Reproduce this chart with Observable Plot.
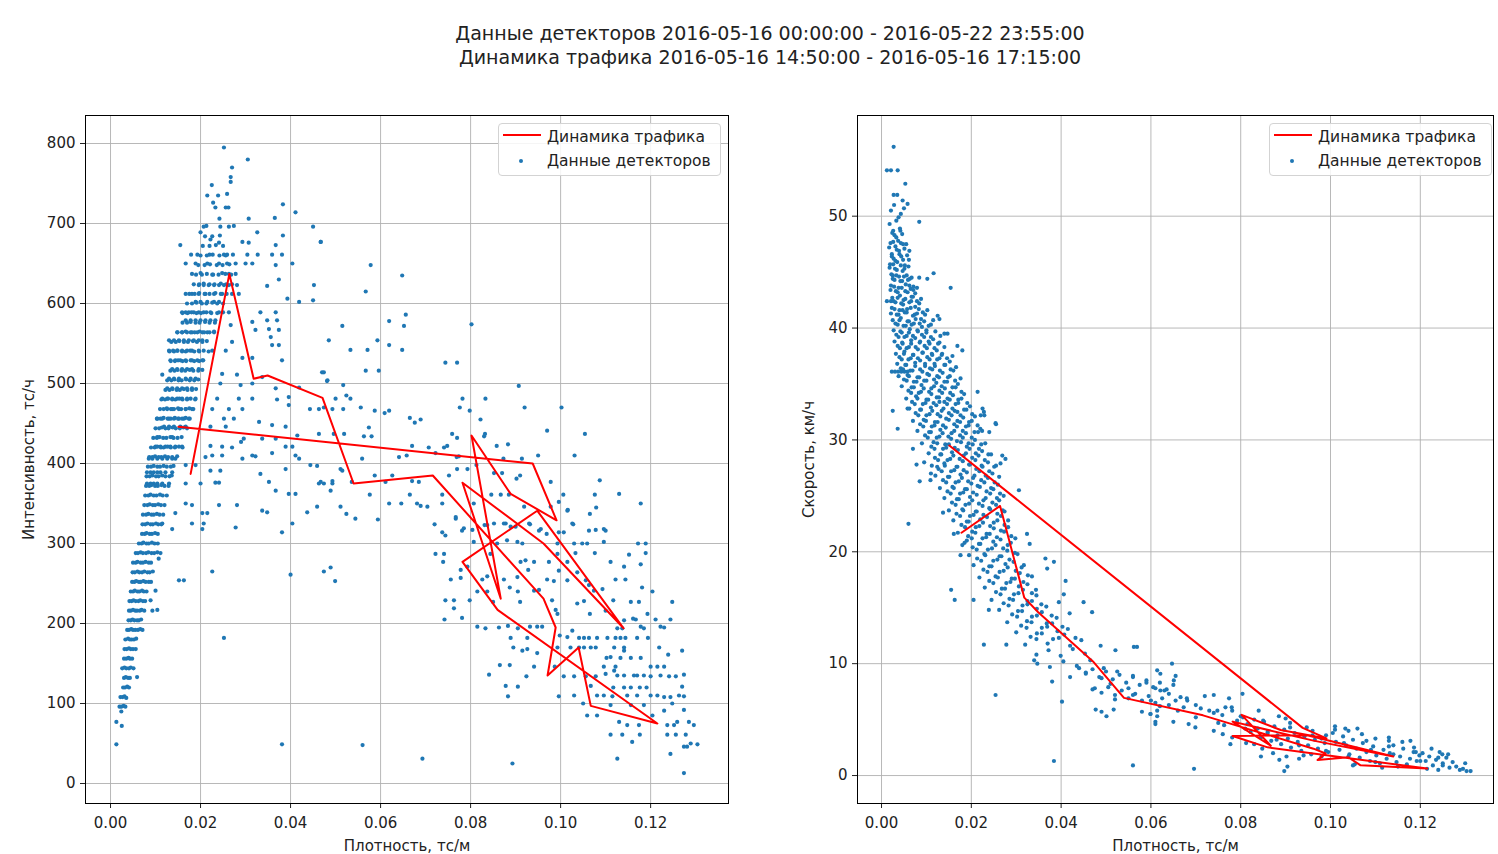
<!DOCTYPE html>
<html><head><meta charset="utf-8">
<script src="https://cdn.jsdelivr.net/npm/d3@7"></script>
<script src="https://cdn.jsdelivr.net/npm/@observablehq/plot@0.6"></script>
<style>
body{margin:0;background:#fff;font-family:"DejaVu Sans",sans-serif;color:#222;}
#wrap{position:relative;width:1498px;height:854px;overflow:hidden;}
.title{position:absolute;left:0;width:1540px;text-align:center;font-size:19px;line-height:24px;}
.panel{position:absolute;top:100px;}
.legend{position:absolute;top:123px;width:221px;height:51px;border:1px solid #d3d3d3;border-radius:4px;background:rgba(255,255,255,0.85);font-size:15.5px;}
.legend .row{position:absolute;left:48px;white-space:nowrap;}
.legend .ln{position:absolute;left:4px;top:10px;width:38px;height:2px;background:#ff0000;}
.legend .pt{position:absolute;left:20px;top:35px;width:4px;height:4px;border-radius:2px;background:#1f77b4;}
</style></head>
<body><div id="wrap">
<div class="title" style="top:21px">Данные детекторов 2016-05-16 00:00:00 - 2016-05-22 23:55:00</div>
<div class="title" style="top:45px">Динамика трафика 2016-05-16 14:50:00 - 2016-05-16 17:15:00</div>
</div>
<script>
// ---------- data ----------
const xTicks = [0, 0.02, 0.04, 0.06, 0.08, 0.10, 0.12];
const yTicksLeft = [0, 100, 200, 300, 400, 500, 600, 700, 800];
const yTicksRight = [0, 10, 20, 30, 40, 50];

// detector observations: [density, intensity] — scattered part
const detectorsFlow = [
[0.0252,795],[0.0305,780],[0.0270,770],[0.0267,758],[0.0267,752],[0.0225,748],[0.0215,735],[0.0239,735],[0.0259,737],[0.0228,726],[0.0233,720],[0.0256,720],[0.0262,720],[0.0383,724],[0.0411,714],[0.0242,706],[0.0307,706],[0.0365,707],[0.0207,696],[0.0213,697],[0.0244,696],[0.0263,696],[0.0274,697],[0.0326,689],[0.0450,696],[0.0200,689],[0.0222,680],[0.0241,676],[0.0155,673],[0.0293,677],[0.0307,676],[0.0383,685],[0.0467,677],[0.0367,673],
[0.0179,661],[0.0193,661],[0.0220,661],[0.0252,661],[0.0259,661],[0.0304,661],[0.0327,661],[0.0359,661],[0.0381,661],
[0.0167,650],[0.0189,650],[0.0215,650],[0.0241,650],[0.0259,650],[0.0278,650],[0.0300,650],[0.0315,650],[0.0367,648],[0.0404,650],
[0.0181,637],[0.0200,638],[0.0226,636],[0.0248,638],[0.0263,637],[0.0278,637],[0.0374,630],[0.0348,622],[0.0452,623],
[0.0196,623],[0.0207,623],[0.0218,623],[0.0230,623],[0.0241,623],[0.0252,623],[0.0263,623],[0.0281,623],
[0.0167,612],[0.0181,612],[0.0196,612],[0.0211,612],[0.0230,612],[0.0248,612],[0.0270,612],[0.0285,612],[0.0393,606],[0.0419,602],[0.0450,604],
[0.0189,602],[0.0200,602],[0.0215,602],[0.0230,602],[0.0241,602],
[0.0159,589],[0.0167,589],[0.0174,589],[0.0185,589],[0.0196,589],[0.0207,589],[0.0222,589],[0.0241,589],[0.0263,589],[0.0333,589],[0.0367,589],
[0.0167,579],[0.0178,579],[0.0189,579],[0.0200,579],[0.0211,579],[0.0222,579],[0.0233,579],[0.0348,579],[0.0370,579],[0.0267,573],[0.0315,577],[0.0322,567],[0.0352,568],[0.0374,567],
[0.0148,564],[0.0159,564],[0.0170,564],[0.0181,564],[0.0193,564],[0.0204,564],[0.0215,564],[0.0230,564],[0.0356,558],
[0.0130,554],[0.0141,554],[0.0152,554],[0.0163,554],[0.0174,554],[0.0185,554],[0.0196,554],[0.0204,554],[0.0270,552],[0.0359,548],[0.0374,548],
[0.0130,541],[0.0139,541],[0.0148,541],[0.0159,541],[0.0170,541],[0.0181,541],[0.0196,541],[0.0226,541],[0.0256,541],[0.0293,532],[0.0315,532],
[0.0133,529],[0.0144,529],[0.0155,529],[0.0167,529],[0.0181,529],[0.0193,529],[0.0204,529],[0.0381,529],[0.0115,511],
[0.0137,518],[0.0148,518],[0.0159,518],[0.0170,518],[0.0181,518],[0.0196,518],[0.0248,512],[0.0281,511],[0.0337,508],[0.0470,514],[0.0481,503],
[0.0130,506],[0.0141,506],[0.0152,506],[0.0167,506],[0.0178,506],[0.0189,506],[0.0244,500],[0.0289,498],[0.0315,500],
[0.0126,494],[0.0137,494],[0.0148,494],[0.0159,494],[0.0170,494],[0.0181,494],[0.0367,494],[0.0396,483],[0.0419,495],
[0.0115,481],[0.0126,481],[0.0137,481],[0.0148,481],[0.0159,481],[0.0170,481],[0.0189,481],[0.0237,481],[0.0285,481],[0.0315,481],[0.0370,480],[0.0396,473],[0.0443,468],[0.0463,468],
[0.0126,468],[0.0137,468],[0.0152,468],[0.0167,468],[0.0181,468],[0.0226,468],[0.0263,468],[0.0293,468],
[0.0104,456],[0.0115,456],[0.0130,456],[0.0141,456],[0.0152,456],[0.0163,456],[0.0174,456],[0.0252,456],[0.0274,456],[0.0330,452],[0.0359,448],[0.0389,446],
[0.0119,446],[0.0130,446],[0.0141,446],[0.0155,446],[0.0167,446],[0.0222,446],[0.0256,446],
[0.0296,431],[0.0337,431],[0.0367,431],[0.0104,433],[0.0137,433],[0.0415,435],[0.0463,437],
[0.0100,421],[0.0111,421],[0.0122,421],[0.0133,421],[0.0144,421],[0.0159,421],[0.0222,422],[0.0248,421],[0.0270,420],[0.0290,427],[0.0359,413],[0.0389,421],[0.0404,421],
[0.0085,406],[0.0093,406],[0.0104,406],[0.0115,406],[0.0126,406],[0.0137,406],[0.0144,406],[0.0167,398],[0.0189,398],
[0.0211,408],[0.0226,410],[0.0248,410],[0.0293,406],[0.0315,410],[0.0322,409],[0.0411,410],[0.0419,406],
[0.0081,389],[0.0089,389],[0.0096,389],[0.0104,389],[0.0111,389],[0.0122,389],[0.0137,389],[0.0222,391],[0.0244,391],[0.0333,387],[0.0389,393],[0.0444,398],[0.0459,397],
[0.0081,375],[0.0089,375],[0.0096,375],[0.0104,375],[0.0115,375],[0.0130,375],[0.0167,375],[0.0200,375],[0.0233,376],[0.0241,376],[0.0352,377],[0.0463,375],[0.0474,375],[0.0493,375],
[0.0367,366],[0.0396,362],[0.0411,362],[0.0489,366],
[0.0167,350],[0.0181,348],[0.0241,348],[0.0281,348],[0.0337,341],[0.0348,339],[0.0437,339],[0.0459,346],
[0.0144,338],[0.0204,338],[0.0215,338],
[0.0115,325],[0.0137,318],[0.0181,325],[0.0207,325],[0.0204,318],[0.0278,320],[0.0381,314],[0.0404,325],
[0.0226,265],[0.0400,261],[0.0474,265],[0.0489,270],[0.0499,253],[0.0152,254],[0.0163,254],[0.0100,241],
[0.0252,182],[0.0381,49],[0.0560,48],[0.0693,31],
[0.0467,677],[0.0578,648],[0.0648,635],[0.0567,615],[0.0656,586],[0.0652,572],[0.0619,578],[0.0515,572],
[0.0485,554],[0.0533,542],[0.0571,542],[0.0593,554],[0.0619,548],[0.0648,542],
[0.0802,574],[0.0744,526],[0.0770,526],[0.0567,516],[0.0596,516],[0.0474,514],[0.0482,504],[0.0907,497],[0.0517,498],
[0.0524,485],[0.0533,481],[0.0500,481],[0.0474,470],[0.0493,468],[0.0517,468],
[0.0556,470],[0.0587,466],[0.0609,463],[0.0619,466],[0.0665,457],[0.0676,451],[0.0689,455],
[0.0782,481],[0.0776,470],[0.0798,466],[0.0833,481],[0.0822,455],[0.0970,441],[0.1002,470],[0.0920,470],[0.1054,437],
[0.0496,437],[0.0519,437],[0.0563,434],[0.0574,445],[0.0580,434],
[0.0759,437],[0.0770,432],[0.0830,434],[0.0832,437],[0.0858,422],[0.0883,424],
[0.0670,422],[0.0707,420],[0.0741,420],[0.0748,422],
[0.0559,406],[0.0511,393],[0.0515,391],[0.0641,408],[0.0658,410],[0.0722,413],[0.0769,408],[0.0774,409],[0.0873,406],[0.0914,406],[0.0950,410],[0.1031,410],
[0.0467,377],[0.0493,378],[0.0536,377],[0.0576,361],[0.0587,385],[0.0611,377],[0.0626,385],[0.0670,378],[0.0685,377],[0.0737,361],[0.0752,385],[0.0770,393],[0.0793,393],[0.0813,398],[0.0852,388],[0.0870,388],
[0.0846,361],[0.0867,361],[0.0885,361],[0.0910,385],[0.0902,381],[0.0978,377],[0.1006,361],[0.0996,352],
[0.1087,379],[0.1130,362],[0.1076,361],[0.1178,350],[0.1079,345],[0.1065,337],[0.1016,342],
[0.0511,346],[0.0524,337],[0.0544,331],[0.0594,330],[0.0619,350],[0.0646,350],[0.0665,361],[0.0681,350],[0.0689,347],[0.0704,346],[0.0737,350],[0.0767,331],[0.0785,319],[0.0807,350],[0.0837,323],[0.0852,325],[0.0878,325],[0.0919,346],[0.0932,324],[0.0952,316],[0.0978,346],[0.1015,341],[0.1026,325],
[0.0720,324],[0.0737,314],[0.0744,310],[0.0767,333],[0.0781,316],[0.0804,317],[0.0831,323],[0.0874,325],[0.0889,321],[0.0900,321],[0.0930,325],[0.0956,318],[0.0969,312],[0.0996,314],[0.1007,314],[0.1028,324],[0.1063,316],[0.1078,317],[0.1096,318],[0.1100,316],
[0.0807,302],[0.0859,300],[0.0881,304],[0.0904,302],[0.0915,300],[0.0993,300],[0.1030,300],[0.1048,300],[0.1059,300],[0.1096,302],[0.1172,300],[0.1189,300],
[0.0722,287],[0.0741,287],[0.0739,277],[0.0778,267],[0.0793,271],[0.0844,287],[0.0911,277],[0.0922,279],[0.0941,277],[0.0974,277],[0.0993,287],[0.1015,277],[0.1033,288],[0.1076,288],[0.1111,277],[0.1152,286],[0.1178,274],[0.1189,288],[0.1141,271],
[0.0756,255],[0.0778,257],[0.0826,255],[0.0837,259],[0.0874,255],[0.0904,258],[0.0928,267],[0.0970,255],[0.0985,253],[0.0996,266],[0.1015,254],[0.1037,264],[0.1056,254],[0.1063,248],[0.1074,241],[0.1093,243],[0.1122,255],[0.1144,255],[0.1181,245],[0.1204,240],[0.1248,227],[0.1156,227],[0.1174,227],[0.1117,229],
[0.0744,229],[0.0763,229],[0.0763,219],[0.0815,240],[0.0837,240],[0.0798,229],[0.0850,227],[0.0887,245],[0.0905,240],[0.0910,227],[0.0941,241],[0.0952,242],[0.0981,229],[0.0989,217],[0.0993,212],[0.1037,225],[0.1052,228],[0.1065,212],[0.1100,216],[0.1141,204],[0.1167,205],[0.1193,212],[0.1211,205],[0.1244,205],[0.1222,196],[0.1230,195],[0.1185,194],[0.1178,196],[0.0781,207],[0.0742,205],
[0.0815,196],[0.0833,194],[0.0863,195],[0.0883,197],[0.0905,194],[0.0932,196],[0.0948,196],[0.0959,196],[0.0998,185],[0.1015,183],[0.1026,191],[0.1041,182],[0.1052,182],[0.1063,182],[0.1081,182],[0.1104,182],[0.1122,182],[0.1133,182],[0.1144,182],[0.1170,182],[0.1194,182],[0.1137,194],[0.1126,194],[0.1161,206],
[0.0889,182],[0.0926,182],[0.0895,170],[0.0915,166],[0.0926,168],[0.0948,163],[0.0993,170],[0.1022,170],[0.1041,170],[0.1052,170],[0.1067,170],[0.1078,170],[0.1119,170],[0.1141,170],[0.1133,157],[0.1156,157],[0.1178,157],[0.1102,157],[0.1111,158],[0.1141,166],[0.1219,170],[0.1239,161],[0.1270,166],
[0.0865,148],[0.0887,148],[0.0841,136],[0.0924,134],[0.0941,146],[0.0987,146],[0.1007,134],[0.1030,134],[0.1056,134],[0.1078,134],[0.1096,146],[0.1100,137],[0.1126,135],[0.1141,135],[0.1170,135],[0.1200,146],[0.1215,146],[0.1222,135],[0.1230,146],[0.1241,134],[0.1256,134],[0.1274,136],[0.1163,135],[0.1185,135],[0.1200,134],[0.1122,146],[0.1119,141],
[0.0878,122],[0.0883,109],[0.0905,121],[0.0996,109],[0.1030,110],[0.1050,100],[0.1067,122],[0.1081,110],[0.1096,110],[0.1117,120],[0.1141,120],[0.1156,120],[0.1176,120],[0.1191,120],[0.1200,110],[0.1215,110],[0.1230,108],[0.1244,108],[0.1263,110],[0.1270,121],[0.1274,109],[0.1115,109],[0.1148,110],[0.1170,110],
[0.1059,85],[0.1081,85],[0.1111,98],[0.1156,98],[0.1185,98],[0.1204,85],[0.1230,91],[0.1248,100],[0.1259,77],[0.1274,92],[0.1237,73],[0.1252,73],[0.1285,77],[0.1296,73],[0.1130,77],[0.1148,73],[0.1174,73],
[0.1111,61],[0.1137,61],[0.1176,61],[0.1237,61],[0.1256,61],[0.1278,61],[0.1159,52],[0.1289,50],[0.1304,49],[0.1274,46],[0.1281,46],[0.1244,37],[0.1126,31],[0.0893,25],[0.1274,13]
];

// detector observations: [density, intensity] — dense free-flow branch (5-min counts form rows)
const detectorsFlowBranch = [
[0.0013,49],[0.0013,77],[0.0025,72],[0.0024,90],[0.0020,96],[0.0024,96],[0.0029,97],[0.0033,96],
[0.0022,108],[0.0027,108],[0.0031,109],[0.0035,107],[0.0028,120],[0.0032,120],[0.0037,121],[0.0041,120],
[0.0030,132],[0.0034,133],[0.0039,132],[0.0043,132],[0.0059,133],
[0.0026,144],[0.0031,145],[0.0035,144],[0.0041,144],[0.0045,145],[0.0051,144],
[0.0030,156],[0.0035,156],[0.0040,157],[0.0043,156],[0.0048,156],
[0.0031,168],[0.0036,168],[0.0041,169],[0.0045,168],[0.0050,168],[0.0056,168],
[0.0033,180],[0.0039,181],[0.0043,180],[0.0047,180],[0.0052,180],[0.0057,181],
[0.0037,192],[0.0041,192],[0.0046,193],[0.0050,192],[0.0055,192],[0.0061,192],[0.0066,193],[0.0071,192],
[0.0040,204],[0.0045,204],[0.0049,205],[0.0053,204],[0.0059,204],[0.0063,204],[0.0068,205],
[0.0041,216],[0.0045,216],[0.0050,217],[0.0055,216],[0.0059,216],[0.0065,216],[0.0069,217],[0.0075,216],[0.0093,216],[0.0104,217],
[0.0042,228],[0.0047,228],[0.0051,229],[0.0056,228],[0.0062,228],[0.0066,229],[0.0072,228],[0.0077,228],[0.0089,229],
[0.0045,240],[0.0050,240],[0.0054,241],[0.0060,240],[0.0064,240],[0.0070,241],[0.0074,240],[0.0080,240],
[0.0048,252],[0.0053,252],[0.0057,253],[0.0063,252],[0.0067,252],[0.0073,253],[0.0078,252],[0.0085,252],[0.0090,252],
[0.0049,264],[0.0054,264],[0.0060,265],[0.0064,264],[0.0070,264],[0.0075,265],[0.0082,264],[0.0087,264],[0.0094,265],
[0.0050,276],[0.0056,276],[0.0060,277],[0.0067,276],[0.0072,276],[0.0078,277],[0.0085,276],[0.0090,276],[0.0107,281],
[0.0056,288],[0.0061,288],[0.0067,289],[0.0072,288],[0.0079,288],[0.0084,289],[0.0091,288],[0.0097,288],[0.0104,289],[0.0111,288],
[0.0063,300],[0.0069,300],[0.0073,301],[0.0080,300],[0.0085,300],[0.0092,301],[0.0098,300],[0.0105,300],
[0.0070,312],[0.0076,312],[0.0080,313],[0.0087,312],[0.0092,312],[0.0099,313],[0.0105,312],
[0.0071,324],[0.0077,324],[0.0082,325],[0.0089,324],[0.0094,324],[0.0101,325],[0.0106,324],[0.0113,324],
[0.0072,336],[0.0079,336],[0.0084,337],[0.0091,336],[0.0096,336],[0.0103,337],[0.0109,336],[0.0117,336],
[0.0075,348],[0.0082,348],[0.0087,349],[0.0094,348],[0.0099,348],[0.0106,349],[0.0112,348],[0.0120,348],
[0.0077,360],[0.0084,360],[0.0089,361],[0.0096,360],[0.0102,360],[0.0110,361],[0.0116,360],[0.0125,360],
[0.0079,372],[0.0086,372],[0.0091,373],[0.0099,372],[0.0105,372],[0.0113,373],[0.0120,372],[0.0129,372],
[0.0080,384],[0.0087,384],[0.0093,385],[0.0101,384],[0.0107,384],[0.0115,385],[0.0122,384],[0.0131,384],[0.0136,385],
[0.0083,396],[0.0090,396],[0.0096,397],[0.0104,396],[0.0110,396],[0.0118,397],[0.0125,396],[0.0134,396],[0.0140,397],
[0.0086,408],[0.0093,408],[0.0099,409],[0.0107,408],[0.0113,408],[0.0121,409],[0.0128,408],[0.0137,408],[0.0148,409],
[0.0090,420],[0.0098,420],[0.0104,421],[0.0112,420],[0.0118,420],[0.0127,421],[0.0134,420],[0.0143,420],[0.0152,421],[0.0160,420],
[0.0095,432],[0.0103,432],[0.0109,433],[0.0117,432],[0.0124,432],[0.0133,433],[0.0140,432],[0.0149,432],[0.0158,433],
[0.0100,444],[0.0108,444],[0.0114,445],[0.0122,444],[0.0129,444],[0.0138,445],[0.0145,444],[0.0154,444],[0.0162,445],[0.0170,444],
[0.0103,456],[0.0111,456],[0.0118,457],[0.0127,456],[0.0134,456],[0.0143,457],[0.0150,456],[0.0159,456],[0.0167,457],[0.0176,456],
[0.0110,468],[0.0118,468],[0.0125,469],[0.0134,468],[0.0141,468],[0.0150,469],[0.0157,468],[0.0167,468],[0.0175,469],[0.0184,468],
[0.0113,480],[0.0121,480],[0.0128,481],[0.0137,480],[0.0144,480],[0.0153,481],[0.0160,480],[0.0170,480],[0.0178,481],[0.0188,480],
[0.0122,492],[0.0131,492],[0.0138,493],[0.0147,492],[0.0154,492],[0.0163,493],[0.0171,492],[0.0181,492],[0.0190,493],
[0.0126,504],[0.0135,504],[0.0142,505],[0.0151,504],[0.0158,504],[0.0168,505],[0.0176,504],[0.0186,504],[0.0195,505],
[0.0133,516],[0.0142,516],[0.0149,517],[0.0158,516],[0.0166,516],[0.0176,517],[0.0184,516],[0.0195,516],[0.0204,517],
[0.0134,528],[0.0143,528],[0.0150,529],[0.0160,528],[0.0168,528],[0.0178,529],[0.0186,528],[0.0197,528],[0.0206,529],
[0.0131,540],[0.0141,540],[0.0149,541],[0.0159,540],[0.0167,540],[0.0177,541],[0.0186,540],[0.0197,540],[0.0207,541],[0.0218,540],
[0.0135,552],[0.0145,552],[0.0153,553],[0.0163,552],[0.0172,552],[0.0183,553],[0.0192,552],[0.0204,552],[0.0214,553],
[0.0149,564],[0.0159,564],[0.0167,565],[0.0178,564],[0.0187,564],[0.0198,565],[0.0208,564],[0.0220,564],[0.0230,565],
[0.0160,576],[0.0170,576],[0.0178,577],[0.0189,576],[0.0198,576],[0.0210,577],[0.0220,576],[0.0232,576],
[0.0160,588],[0.0171,588],[0.0180,589],[0.0191,588],[0.0201,588],[0.0213,589],[0.0224,588],[0.0237,588],[0.0250,589],
[0.0170,600],[0.0181,600],[0.0191,601],[0.0203,600],[0.0213,600],[0.0226,601],[0.0237,600],[0.0250,600],
[0.0175,612],[0.0187,612],[0.0197,613],[0.0209,612],[0.0220,612],[0.0233,613],[0.0245,612],[0.0258,612],
[0.0185,624],[0.0197,624],[0.0207,625],[0.0220,624],[0.0231,624],[0.0245,625],[0.0257,624],[0.0270,624],
[0.0190,636],[0.0203,636],[0.0214,637],[0.0228,636],[0.0240,636],[0.0255,637],[0.0268,636],
[0.0195,648],[0.0209,648],[0.0221,649],[0.0236,648],[0.0249,648],[0.0264,649],
[0.0200,660],[0.0214,660],[0.0227,661],[0.0242,660],[0.0256,660],[0.0272,661],
[0.0205,672],[0.0220,672],[0.0234,673],[0.0250,672],[0.0210,684],[0.0226,684],[0.0243,685]
];

// detector observations: [density, speed] — scattered part
const detectorsSpeed = [
[0.0027,56.2],[0.0012,54.1],[0.0021,54.1],[0.0036,54.1],[0.0053,52.9],[0.0027,51.9],[0.0035,51.9],[0.0047,51.4],[0.0058,51.1],[0.0021,50.5],[0.0028,51.0],[0.0050,50.7],[0.0084,49.5],[0.0043,50.2],
[0.0062,46.9],[0.0038,49.9],[0.0065,43.5],[0.0025,44.7],[0.0116,44.9],[0.0154,43.6],[0.0102,44.4],[0.0084,44.5],
[0.0012,42.4],[0.0021,42.4],[0.0125,41.1],[0.0129,40.8],
[0.0023,36.1],[0.0030,36.1],[0.0037,36.1],[0.0044,36.1],[0.0051,36.1],[0.0058,36.1],
[0.0180,38.0],[0.0169,38.4],[0.0147,39.5],[0.0140,39.5],
[0.0025,32.6],[0.0058,32.8],[0.0036,31.0],[0.0129,33.4],[0.0255,31.4],[0.0229,32.2],[0.0214,34.3],[0.0225,32.8],[0.0169,32.5],
[0.0060,22.5],[0.0085,26.3],[0.0095,28.0],[0.0110,27.0],[0.0070,29.2],[0.0078,27.8],
[0.0254,31.5],[0.0221,32.2],[0.0240,30.7],[0.0224,30.8],[0.0228,32.5],
[0.0306,25.5],[0.0265,27.9],[0.0276,28.3],[0.0269,28.6],[0.0109,26.4],[0.0124,27.6],
[0.0137,23.5],[0.0161,21.6],[0.0180,20.6],[0.0176,19.7],[0.0190,21.0],[0.0330,20.7],[0.0324,21.6],
[0.0155,16.6],[0.0163,15.7],[0.0205,15.7],[0.0239,14.8],[0.0365,19.4],[0.0384,19.1],[0.0410,17.4],[0.0406,16.2],[0.0450,15.5],[0.0469,14.6],[0.0395,15.5],[0.0369,18.5],
[0.0228,11.7],[0.0278,11.7],[0.0347,10.0],[0.0340,10.3],[0.0380,8.4],[0.0402,6.6],[0.0254,7.2],[0.0384,1.3],[0.0560,0.9],[0.0419,14.5],
[0.0440,9.6],[0.0455,9.1],[0.0470,9.5],[0.0485,8.8],[0.0500,9.3],[0.0515,8.6],[0.0530,9.0],[0.0545,8.3],[0.0560,8.8],[0.0575,8.1],[0.0590,8.5],[0.0605,7.9],[0.0620,8.3],[0.0635,7.7],[0.0650,8.1],[0.0475,7.8],[0.0490,7.4],[0.0505,7.9],[0.0520,7.2],[0.0535,7.6],[0.0550,6.9],[0.0565,7.3],[0.0580,6.7],[0.0595,7.1],[0.0610,6.5],[0.0625,6.9],[0.0640,6.3],[0.0655,6.7],
[0.0477,5.9],[0.0490,5.7],[0.0501,5.3],[0.0517,5.9],[0.0599,5.5],[0.0610,4.8],[0.0614,5.3],[0.0488,11.6],[0.0521,11.2],[0.0562,11.5],[0.0569,11.5],
[0.0647,10.0],[0.0614,9.4],[0.0621,9.1],[0.0655,8.9],[0.0651,8.5],[0.0610,7.8],[0.0621,7.6],[0.0599,5.5],[0.0614,5.8],[0.0610,4.6],[0.0666,7.0],[0.0681,6.7],[0.0673,6.1],[0.0684,4.6],[0.0699,4.3],
[0.0711,6.0],[0.0730,5.8],[0.0740,7.2],[0.0748,5.8],[0.0774,6.9],[0.0766,6.1],[0.0759,5.4],[0.0781,5.8],[0.0804,7.3],[0.0792,4.9],[0.0740,4.0],[0.0763,4.5],[0.0781,3.4],[0.0777,2.8],[0.0696,0.6],[0.0897,0.4],
[0.0805,5.2],[0.0815,4.6],[0.0822,3.9],[0.0830,5.0],[0.0838,4.2],[0.0845,3.4],[0.0852,4.8],[0.0860,3.9],[0.0868,3.1],[0.0875,4.4],[0.0882,3.6],[0.0890,2.8],[0.0897,4.1],[0.0905,3.3],[0.0912,2.5],[0.0920,3.8],[0.0927,3.0],[0.0935,2.2],[0.0942,3.5],[0.0950,2.7],[0.0957,1.9],[0.0965,3.2],[0.0972,2.4],[0.0980,1.7],[0.0987,2.9],[0.0995,2.1],[0.0812,2.9],[0.0848,2.4],[0.0872,2.0],[0.0902,1.7],[0.0930,1.5],[0.0960,4.0],[0.0990,3.6],[0.0885,5.3],[0.0910,4.7],[0.0840,5.8],[0.0947,4.3],[0.0845,1.7],[0.0886,1.4],[0.0904,0.8],
[0.1005,3.8],[0.1012,3.0],[0.1020,2.3],[0.1028,3.5],[0.1035,2.7],[0.1042,1.9],[0.1050,3.2],[0.1058,2.4],[0.1065,1.6],[0.1072,2.9],[0.1080,2.1],[0.1088,1.3],[0.1095,2.6],[0.1102,1.8],[0.1110,1.1],[0.1118,2.3],[0.1125,1.5],[0.1132,2.0],[0.1140,2.7],[0.1147,1.2],[0.1155,1.7],[0.1162,2.4],[0.1170,1.0],[0.1177,1.5],[0.1185,2.1],[0.1192,1.3],[0.1198,1.8],[0.1010,4.4],[0.1040,4.0],[0.1070,3.7],[0.1100,3.3],[0.1130,3.1],[0.1160,3.0],[0.1054,1.0],[0.1115,0.7],[0.1033,4.2],[0.1060,4.2],[0.1130,3.4],[0.1178,3.1],[0.1186,2.5],
[0.1205,2.0],[0.1212,1.3],[0.1220,1.7],[0.1228,0.9],[0.1235,1.4],[0.1243,2.1],[0.1250,1.1],[0.1258,1.6],[0.1265,0.7],[0.1272,1.2],[0.1280,0.8],[0.1288,0.5],[0.1295,0.6],[0.1303,0.4],[0.1312,0.4],[0.1215,0.6],[0.1240,0.5],[0.1262,1.9],[0.1225,2.4],[0.1249,1.9]
];

// detector observations: [density, speed] — dense core of the cloud
const detectorsSpeedCore = [
[0.0018,49.3],[0.0026,48.7],[0.0033,49.6],[0.0041,48.9],[0.0020,47.6],[0.0029,48.3],[0.0037,47.8],[0.0046,48.4],[0.0055,47.5],
[0.0023,46.6],[0.0031,47.3],[0.0039,46.9],[0.0048,47.5],[0.0019,45.7],[0.0027,46.2],[0.0035,45.9],[0.0044,46.4],[0.0052,45.6],[0.0061,46.1],
[0.0022,44.8],[0.0030,45.3],[0.0039,44.6],[0.0047,45.1],[0.0056,44.7],[0.0021,43.8],[0.0029,44.3],[0.0038,43.6],[0.0046,44.2],[0.0054,43.9],[0.0063,44.4],[0.0071,43.7],
[0.0024,42.7],[0.0032,43.3],[0.0041,42.9],[0.0049,42.5],[0.0058,43.2],[0.0067,42.8],[0.0075,43.1],
[0.0023,41.8],[0.0031,42.3],[0.0040,41.6],[0.0048,42.1],[0.0057,41.7],[0.0066,42.4],[0.0075,41.9],[0.0084,42.2],
[0.0025,40.7],[0.0034,41.2],[0.0043,40.9],[0.0052,41.4],[0.0061,40.6],[0.0070,41.1],[0.0079,41.3],[0.0088,40.8],[0.0097,41.2],
[0.0027,39.8],[0.0036,40.3],[0.0045,39.6],[0.0054,40.2],[0.0063,39.9],[0.0072,40.4],[0.0081,39.7],[0.0090,40.1],[0.0100,39.8],[0.0110,40.3],
[0.0029,38.8],[0.0038,39.2],[0.0047,38.6],[0.0056,39.3],[0.0066,38.9],[0.0075,39.1],[0.0085,38.7],[0.0095,39.2],[0.0105,38.8],[0.0115,39.0],[0.0126,38.6],
[0.0032,37.7],[0.0041,38.2],[0.0051,37.9],[0.0061,38.3],[0.0071,37.6],[0.0081,38.1],[0.0091,37.8],[0.0101,38.2],[0.0112,37.7],[0.0123,38.0],[0.0134,37.6],
[0.0035,36.8],[0.0045,37.2],[0.0055,36.7],[0.0065,37.3],[0.0075,36.9],[0.0086,37.1],[0.0097,36.6],[0.0107,37.2],[0.0118,36.8],[0.0129,37.3],[0.0140,36.7],[0.0152,37.0],
[0.0038,35.7],[0.0048,36.3],[0.0058,35.8],[0.0069,36.2],[0.0080,35.6],[0.0091,36.1],[0.0102,35.9],[0.0113,36.3],[0.0124,35.7],[0.0136,36.0],[0.0148,35.6],[0.0160,36.2],
[0.0045,34.8],[0.0056,35.3],[0.0067,34.7],[0.0078,35.2],[0.0089,34.9],[0.0100,35.3],[0.0111,34.6],[0.0122,35.1],[0.0134,34.8],[0.0146,35.2],[0.0158,34.7],[0.0170,35.0],
[0.0055,33.7],[0.0066,34.2],[0.0077,33.9],[0.0088,34.3],[0.0100,33.6],[0.0111,34.1],[0.0123,33.8],[0.0135,34.2],[0.0147,33.7],[0.0159,34.0],[0.0171,33.6],[0.0184,34.1],
[0.0062,32.8],[0.0074,33.2],[0.0086,32.7],[0.0098,33.3],[0.0110,32.9],[0.0122,33.1],[0.0134,32.6],[0.0146,33.2],[0.0158,32.8],[0.0171,33.3],[0.0184,32.7],[0.0197,33.0],
[0.0070,31.7],[0.0082,32.2],[0.0094,31.8],[0.0107,32.3],[0.0119,31.6],[0.0131,32.1],[0.0144,31.9],[0.0156,32.2],[0.0169,31.7],[0.0182,32.0],[0.0195,31.6],[0.0208,32.1],
[0.0080,30.8],[0.0093,31.2],[0.0106,30.7],[0.0118,31.3],[0.0131,30.9],[0.0143,31.1],[0.0156,30.6],[0.0168,31.2],[0.0181,30.8],[0.0194,31.3],[0.0207,30.7],[0.0220,31.0],
[0.0090,29.7],[0.0103,30.2],[0.0116,29.8],[0.0129,30.3],[0.0142,29.6],[0.0155,30.1],[0.0168,29.9],[0.0181,30.2],[0.0194,29.7],[0.0208,30.0],[0.0222,29.6],
[0.0105,28.8],[0.0118,29.2],[0.0131,28.7],[0.0144,29.3],[0.0157,28.9],[0.0170,29.1],[0.0183,28.6],[0.0196,29.2],[0.0210,28.8],[0.0224,29.0],[0.0238,28.7],
[0.0112,27.7],[0.0126,28.2],[0.0140,27.9],[0.0153,28.3],[0.0167,27.6],[0.0181,28.1],[0.0195,27.8],[0.0209,28.2],[0.0223,27.7],[0.0237,28.0],[0.0251,27.6],
[0.0120,26.8],[0.0134,27.2],[0.0148,26.7],[0.0162,27.3],[0.0176,26.9],[0.0190,27.1],[0.0204,26.6],[0.0218,27.2],[0.0232,26.8],[0.0247,27.0],[0.0262,26.7],
[0.0130,25.7],[0.0144,26.2],[0.0158,25.8],[0.0172,26.3],[0.0186,25.6],[0.0200,26.1],[0.0214,25.9],[0.0229,26.2],[0.0244,25.7],[0.0259,26.0],
[0.0140,24.8],[0.0154,25.2],[0.0168,24.7],[0.0182,25.3],[0.0197,24.9],[0.0212,25.1],[0.0227,24.6],[0.0242,25.2],[0.0257,24.8],[0.0272,25.0],
[0.0150,23.7],[0.0165,24.2],[0.0180,23.8],[0.0195,24.3],[0.0210,23.6],[0.0225,24.1],[0.0240,23.9],[0.0255,24.2],[0.0270,23.7],
[0.0160,22.8],[0.0175,23.2],[0.0190,22.7],[0.0205,23.3],[0.0220,22.9],[0.0235,23.1],[0.0250,22.6],[0.0266,23.2],[0.0282,22.8],
[0.0170,21.7],[0.0186,22.2],[0.0202,21.8],[0.0218,22.3],[0.0234,21.6],[0.0250,22.1],[0.0266,21.9],[0.0282,22.2],
[0.0185,20.8],[0.0201,21.2],[0.0217,20.7],[0.0233,21.3],[0.0249,20.9],[0.0265,21.1],[0.0281,20.6],[0.0298,21.2],
[0.0195,19.7],[0.0212,20.2],[0.0229,19.8],[0.0246,20.3],[0.0263,19.6],[0.0280,20.1],[0.0297,19.9],
[0.0205,18.8],[0.0222,19.2],[0.0240,18.7],[0.0258,19.3],[0.0276,18.9],[0.0294,19.1],[0.0312,18.6],
[0.0218,17.7],[0.0236,18.2],[0.0254,17.8],[0.0272,18.3],[0.0290,17.6],[0.0308,18.1],[0.0326,17.9],
[0.0230,16.8],[0.0249,17.2],[0.0268,16.7],[0.0287,17.3],[0.0306,16.9],[0.0325,17.1],[0.0344,16.6],
[0.0245,15.7],[0.0265,16.2],[0.0285,15.8],[0.0305,16.3],[0.0325,15.6],[0.0345,16.1],
[0.0262,14.8],[0.0283,15.2],[0.0304,14.7],[0.0325,15.3],[0.0346,14.9],[0.0367,15.1],
[0.0280,13.7],[0.0302,14.2],[0.0324,13.8],[0.0346,14.3],[0.0368,13.6],[0.0390,14.1],
[0.0300,12.8],[0.0323,13.2],[0.0346,12.7],[0.0369,13.3],[0.0392,12.9],[0.0415,13.1],
[0.0320,11.7],[0.0345,12.2],[0.0370,11.8],[0.0395,12.3],[0.0420,11.6],[0.0445,12.1],
[0.0345,10.8],[0.0372,11.2],[0.0399,10.7],[0.0426,11.3],[0.0453,10.9],
[0.0375,9.7],[0.0405,10.2],[0.0435,9.8],[0.0465,10.3],[0.0495,9.6],
[0.0420,8.8],[0.0455,9.2],[0.0490,8.7],[0.0525,9.3],[0.0560,8.9],
[0.0470,7.7],[0.0510,8.2],[0.0550,7.8],[0.0590,8.3],[0.0630,7.6],
[0.0520,6.8],[0.0560,7.2],[0.0600,6.7],[0.0640,7.3],[0.0680,6.9],[0.0720,7.1],
[0.0580,5.7],[0.0620,6.2],[0.0660,5.8],[0.0700,6.3],[0.0740,5.6],[0.0780,6.1],
[0.0650,4.8],[0.0700,5.2],[0.0750,4.7],[0.0800,5.3],[0.0850,4.9],[0.0900,5.1],
[0.0760,3.7],[0.0810,4.2],[0.0860,3.8],[0.0910,4.3],[0.0960,3.6],[0.1010,4.1],
[0.0830,2.8],[0.0880,3.2],[0.0930,2.7],[0.0980,3.3],[0.1030,2.9],[0.1080,3.1],[0.1130,2.6],
[0.0940,1.8],[0.0990,2.2],[0.1040,1.7],[0.1090,2.3],[0.1140,1.9],[0.1190,2.1],[0.1240,1.6],
[0.1050,0.9],[0.1100,1.2],[0.1150,0.8],[0.1200,1.3],[0.1250,0.9],[0.1300,1.1]
];

// detector observations: [density, speed] — further points filling the core between the rows above
const detectorsSpeedCore2 = [
[0.0024,48.5],[0.0033,48.1],[0.0042,48.7],[0.0017,47.2],[0.0026,47.7],[0.0034,47.0],[0.0043,47.6],[0.0051,47.1],
[0.0023,46.4],[0.0031,46.0],[0.0040,46.6],[0.0048,46.1],[0.0057,46.5],[0.0018,45.4],[0.0026,45.7],[0.0034,45.2],[0.0043,45.6],[0.0051,45.3],[0.0060,45.5],
[0.0025,44.4],[0.0033,44.7],[0.0042,44.2],[0.0050,44.6],[0.0059,44.3],[0.0067,44.5],
[0.0020,43.4],[0.0028,43.7],[0.0036,43.2],[0.0045,43.6],[0.0053,43.3],[0.0062,43.8],[0.0071,43.4],[0.0079,43.6],
[0.0027,42.4],[0.0036,42.7],[0.0044,42.2],[0.0053,42.6],[0.0062,42.3],[0.0070,42.8],[0.0079,42.4],[0.0088,42.6],
[0.0021,41.3],[0.0029,41.7],[0.0038,41.2],[0.0047,41.6],[0.0056,41.4],[0.0065,41.8],[0.0074,41.2],[0.0083,41.7],[0.0092,41.4],[0.0102,41.6],
[0.0031,40.4],[0.0040,40.7],[0.0049,40.2],[0.0058,40.6],[0.0067,40.3],[0.0076,40.8],[0.0085,40.4],[0.0095,40.6],[0.0105,40.2],[0.0115,40.7],
[0.0033,39.4],[0.0042,39.7],[0.0051,39.2],[0.0061,39.6],[0.0070,39.3],[0.0080,39.8],[0.0090,39.4],[0.0100,39.6],[0.0110,39.2],[0.0120,39.7],[0.0131,39.3],
[0.0036,38.4],[0.0046,38.7],[0.0056,38.2],[0.0066,38.6],[0.0076,38.3],[0.0086,38.8],[0.0096,38.4],[0.0107,38.6],[0.0118,38.2],[0.0129,38.7],[0.0140,38.3],
[0.0040,37.4],[0.0050,37.7],[0.0060,37.2],[0.0070,37.6],[0.0081,37.3],[0.0092,37.8],[0.0102,37.4],[0.0113,37.6],[0.0124,37.2],[0.0135,37.7],[0.0146,37.3],[0.0158,37.5],
[0.0043,36.4],[0.0053,36.7],[0.0064,36.2],[0.0075,36.6],[0.0086,36.3],[0.0097,36.8],[0.0108,36.4],[0.0119,36.6],[0.0130,36.2],[0.0142,36.7],[0.0154,36.3],[0.0166,36.5],
[0.0050,35.4],[0.0061,35.7],[0.0072,35.2],[0.0084,35.6],[0.0095,35.3],[0.0106,35.8],[0.0117,35.4],[0.0128,35.6],[0.0140,35.2],[0.0152,35.7],[0.0164,35.3],[0.0176,35.5],
[0.0060,34.4],[0.0072,34.7],[0.0083,34.2],[0.0094,34.6],[0.0106,34.3],[0.0117,34.8],[0.0129,34.4],[0.0141,34.6],[0.0153,34.2],[0.0165,34.7],[0.0178,34.3],
[0.0068,33.4],[0.0080,33.7],[0.0092,33.2],[0.0104,33.6],[0.0116,33.3],[0.0128,33.8],[0.0140,33.4],[0.0152,33.6],[0.0165,33.2],[0.0178,33.7],[0.0191,33.3],
[0.0076,32.4],[0.0088,32.7],[0.0100,32.2],[0.0113,32.6],[0.0125,32.3],[0.0138,32.8],[0.0150,32.4],[0.0163,32.6],[0.0176,32.2],[0.0189,32.7],[0.0202,32.3],
[0.0086,31.4],[0.0099,31.7],[0.0112,31.2],[0.0125,31.6],[0.0137,31.3],[0.0150,31.8],[0.0162,31.4],[0.0175,31.6],[0.0188,31.2],[0.0201,31.7],[0.0214,31.3],
[0.0097,30.4],[0.0110,30.7],[0.0123,30.2],[0.0136,30.6],[0.0149,30.3],[0.0162,30.8],[0.0175,30.4],[0.0188,30.6],[0.0201,30.2],[0.0215,30.7],
[0.0111,29.4],[0.0124,29.7],[0.0137,29.2],[0.0150,29.6],[0.0163,29.3],[0.0177,29.8],[0.0190,29.4],[0.0203,29.6],[0.0217,29.2],[0.0231,29.7],
[0.0119,28.4],[0.0133,28.7],[0.0147,28.2],[0.0160,28.6],[0.0174,28.3],[0.0188,28.8],[0.0202,28.4],[0.0216,28.6],[0.0230,28.2],[0.0244,28.7],
[0.0127,27.4],[0.0141,27.7],[0.0155,27.2],[0.0169,27.6],[0.0183,27.3],[0.0197,27.8],[0.0211,27.4],[0.0225,27.6],[0.0240,27.2],[0.0255,27.7],
[0.0137,26.4],[0.0151,26.7],[0.0165,26.2],[0.0179,26.6],[0.0193,26.3],[0.0207,26.8],[0.0222,26.4],[0.0237,26.6],[0.0252,26.2],
[0.0147,25.4],[0.0161,25.7],[0.0175,25.2],[0.0190,25.6],[0.0204,25.3],[0.0219,25.8],[0.0234,25.4],[0.0249,25.6],[0.0264,25.2],
[0.0157,24.4],[0.0172,24.7],[0.0187,24.2],[0.0202,24.6],[0.0217,24.3],[0.0232,24.8],[0.0247,24.4],[0.0262,24.6],
[0.0167,23.4],[0.0182,23.7],[0.0197,23.2],[0.0212,23.6],[0.0227,23.3],[0.0242,23.8],[0.0258,23.4],[0.0274,23.6],
[0.0178,22.4],[0.0194,22.7],[0.0210,22.2],[0.0226,22.6],[0.0242,22.3],[0.0258,22.8],[0.0274,22.4],
[0.0193,21.4],[0.0209,21.7],[0.0225,21.2],[0.0241,21.6],[0.0257,21.3],[0.0273,21.8],[0.0289,21.4],
[0.0203,20.4],[0.0220,20.7],[0.0237,20.2],[0.0254,20.6],[0.0271,20.3],[0.0288,20.8],
[0.0213,19.4],[0.0231,19.7],[0.0249,19.2],[0.0267,19.6],[0.0285,19.3],[0.0303,19.8],
[0.0227,18.4],[0.0245,18.7],[0.0263,18.2],[0.0281,18.6],[0.0299,18.3],[0.0317,18.8],
[0.0240,17.4],[0.0259,17.7],[0.0278,17.2],[0.0297,17.6],[0.0316,17.3],[0.0335,17.8],
[0.0255,16.4],[0.0275,16.7],[0.0295,16.2],[0.0315,16.6],[0.0335,16.3],
[0.0272,15.4],[0.0293,15.7],[0.0314,15.2],[0.0335,15.6],[0.0356,15.3],
[0.0291,14.4],[0.0313,14.7],[0.0335,14.2],[0.0357,14.6],[0.0379,14.3],
[0.0311,13.4],[0.0334,13.7],[0.0357,13.2],[0.0380,13.6],[0.0403,13.3],
[0.0332,12.4],[0.0357,12.7],[0.0382,12.2],[0.0407,12.6],[0.0432,12.3]
];

// traffic dynamics path (time order): density, intensity, speed
const pathDensity   = [0.0151,0.0938,0.0991,0.0889,0.0802,0.0867,0.0782,0.0962,0.1140,0.0948,0.0782,0.0860,0.1215,0.1067,0.1040,0.0971,0.0989,0.0962,0.0716,0.0540,0.0471,0.0349,0.0318,0.0264,0.0178];
const pathIntensity = [446,400,329,362,435,231,376,300,194,341,277,217,75,97,170,135,195,231,385,375,482,510,506,637,387];
const pathSpeed     = [29.5,4.26,3.32,4.07,5.42,2.66,4.82,3.12,1.70,3.60,3.54,2.52,0.62,0.91,1.63,1.39,1.97,2.40,5.38,6.94,10.2,14.6,15.9,24.1,21.7];

const xLabel = "Плотность, тс/м";
const yLabelLeft = "Интенсивность, тс/ч";
const yLabelRight = "Скорость, км/ч";
const legendLine = "Динамика трафика";
const legendDots = "Данные детекторов";

// ---------- drawing ----------
const wrap = document.getElementById("wrap");
const fmt = d3.format(".2f");
const pathFlow = pathDensity.map((k, i) => ({k, v: pathIntensity[i]}));
const pathSpd = pathDensity.map((k, i) => ({k, v: pathSpeed[i]}));

function panel({left, width, mL, mR, xDomain, yDomain, yTicks, yLabel, yLabelOffset, dots, path}) {
  const p = Plot.plot({
    width, height: 754,
    marginLeft: mL, marginRight: mR, marginTop: 15, marginBottom: 51,
    style: {fontSize: "15px", fontFamily: "DejaVu Sans, sans-serif", color: "#222", background: "transparent"},
    x: {domain: xDomain},
    y: {domain: yDomain},
    marks: [
      Plot.gridX(xTicks, {stroke: "#b0b0b0", strokeOpacity: 0.9, strokeWidth: 1}),
      Plot.gridY(yTicks, {stroke: "#b0b0b0", strokeOpacity: 0.9, strokeWidth: 1}),
      Plot.axisX(xTicks, {tickFormat: fmt, tickSize: 5, tickPadding: 9, label: xLabel, labelAnchor: "center", labelArrow: "none", labelOffset: 47, fontSize: 15}),
      Plot.axisY(yTicks, {tickSize: 5, tickPadding: 5, label: yLabel, labelAnchor: "center", labelArrow: "none", labelOffset: yLabelOffset, fontSize: 15}),
      Plot.dot(dots, {x: d => d[0], y: d => d[1], r: 2.1, fill: "#1f77b4", stroke: "none"}),
      Plot.line(path, {x: "k", y: "v", stroke: "#ff0000", strokeWidth: 2}),
      Plot.frame({stroke: "#000", strokeWidth: 1})
    ]
  });
  p.classList.add("panel");
  p.style.left = left + "px";
  wrap.appendChild(p);
}

panel({left: 0, width: 750, mL: 85, mR: 22, xDomain: [-0.00556, 0.1373], yDomain: [-25, 835],
  yTicks: yTicksLeft, yLabel: yLabelLeft, yLabelOffset: 62, dots: detectorsFlow.concat(detectorsFlowBranch), path: pathFlow});
panel({left: 780, width: 718, mL: 77, mR: 5, xDomain: [-0.00535, 0.1363], yDomain: [-2.5, 59.0],
  yTicks: yTicksRight, yLabel: yLabelRight, yLabelOffset: 54, dots: detectorsSpeed.concat(detectorsSpeedCore, detectorsSpeedCore2), path: pathSpd});

function legend(left) {
  const lg = document.createElement("div");
  lg.className = "legend";
  lg.style.left = left + "px";
  lg.innerHTML = `<div class="ln"></div><div class="row" style="top:4px">${legendLine}</div>
    <div class="pt"></div><div class="row" style="top:28px">${legendDots}</div>`;
  wrap.appendChild(lg);
}
legend(498);
legend(1269);
</script>
</body></html>
